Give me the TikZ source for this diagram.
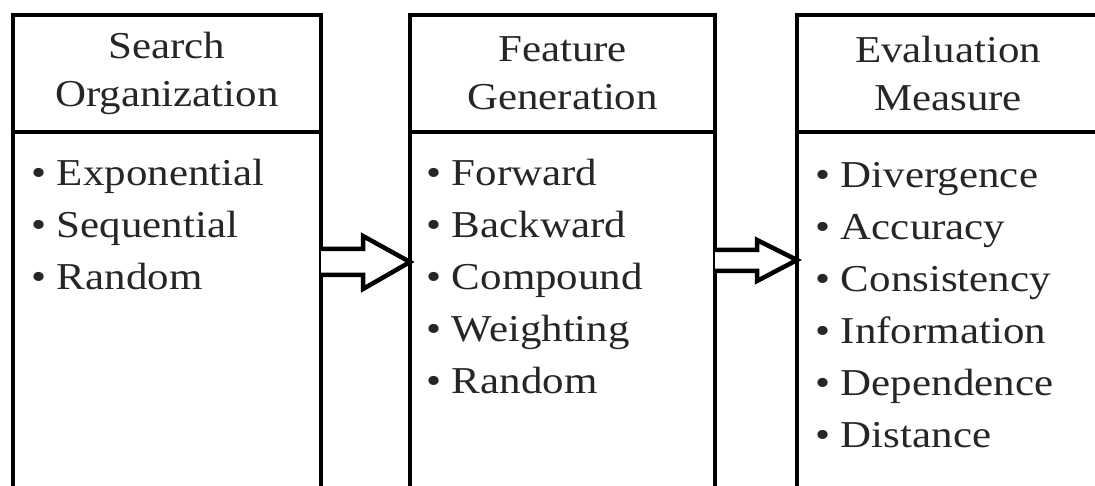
\documentclass[tikz,border=0pt]{standalone}
\usepackage{fontspec}
\setmainfont{Liberation Serif}[FakeStretch=1.13]
\usetikzlibrary{positioning}

\tikzset{
  box/.style={draw=black, line width=4.5pt, outer sep=0pt, inner sep=0pt,
    minimum width=#1},
  headbox/.style={box=#1, minimum height=117pt, align=center,
    text=black!85, font=\fontsize{38}{48}\selectfont},
  bodybox/.style={box=#1, minimum height=380pt},
  itemlist/.style={align=left, inner sep=0pt, anchor=north west,
    text=black!85, font=\fontsize{38}{52}\selectfont},
  fatarrow/.style={draw=black, line width=4.5pt, fill=white, line join=miter},
}

\begin{document}
\begin{tikzpicture}[x=1pt,y=-1pt]

  \fill[white] (0,0) rectangle (1095,486);
  \useasboundingbox (0,0) rectangle (1095,486);

  % three columns
  \node[headbox=308pt, anchor=north west] (sohead) at (13,15)
  {Search\\Organization};
  \node[bodybox=308pt, below=0pt of sohead] (sobody) {};

  \node[headbox=305pt, right=89pt of sohead] (fghead)
  {Feature\\Generation};
  \node[bodybox=305pt, below=0pt of fghead] (fgbody) {};

  \node[headbox=302pt, right=82pt of fghead] (emhead)
  {Evaluation\\Measure};
  \node[bodybox=302pt, below=0pt of emhead] (embody) {};

  % lists
  \node[itemlist] (solist) at ([shift={(18,27)}]sobody.north west)
  {\textbullet\ Exponential\\\textbullet\ Sequential\\\textbullet\ Random};
  \node[itemlist] (fglist) at ([shift={(16,27)}]fgbody.north west)
  {\textbullet\ Forward\\\textbullet\ Backward\\\textbullet\ Compound\\
   \textbullet\ Weighting\\\textbullet\ Random};
  \node[itemlist] (emlist) at ([shift={(18,30)}]embody.north west)
  {\textbullet\ Divergence\\\textbullet\ Accuracy\\\textbullet\ Consistency\\
   \textbullet\ Information\\\textbullet\ Dependence\\\textbullet\ Distance};

  % block arrows
  \draw[fatarrow] (sobody.east |- 0,249) -- ++(42,0) -- ++(0,-13)
  -- (fgbody.west |- 0,262) -- (363,289) -- ++(0,-14)
  -- (sobody.east |- 0,275);
  \draw[fatarrow] (fgbody.east |- 0,250) -- ++(42,0) -- ++(0,-10)
  -- (embody.west |- 0,260) -- (757,281) -- ++(0,-10)
  -- (fgbody.east |- 0,271);

\end{tikzpicture}
\end{document}
